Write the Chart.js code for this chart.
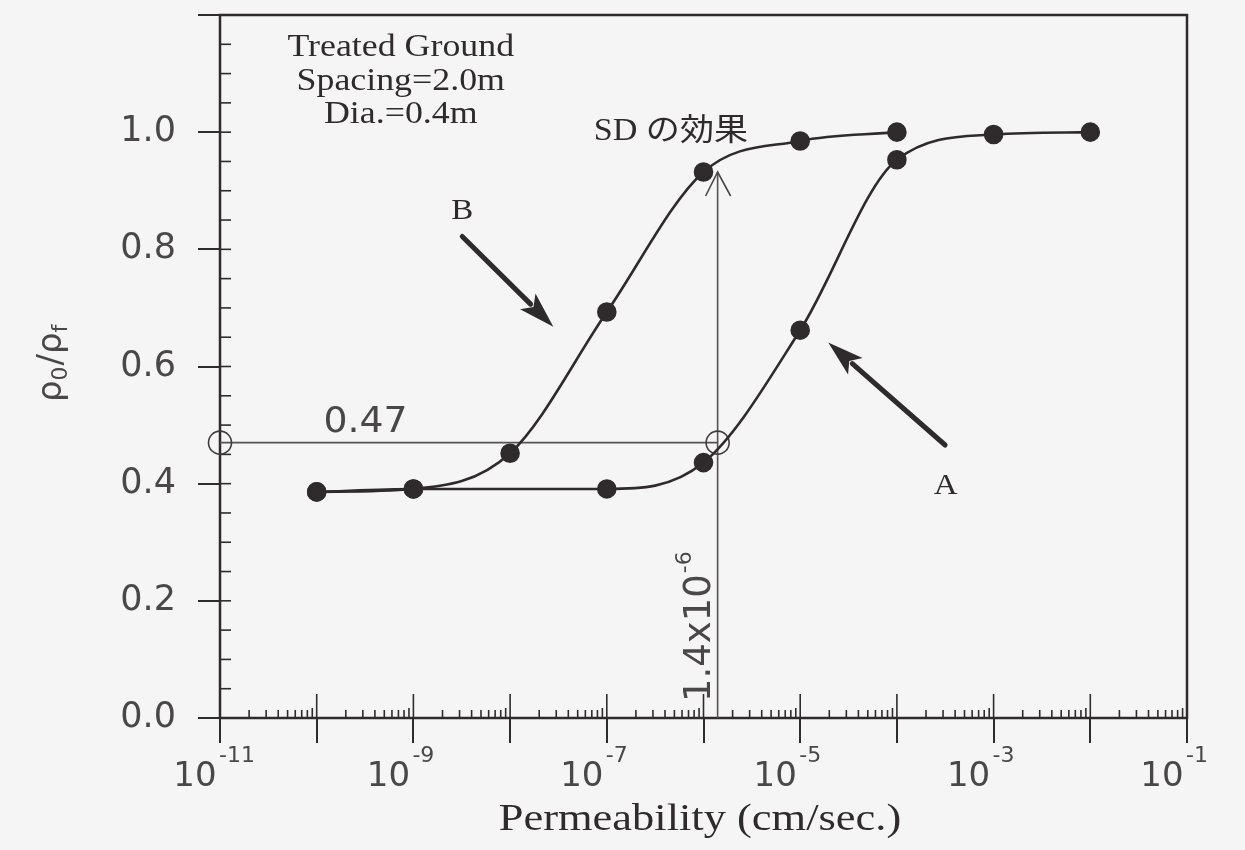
<!DOCTYPE html>
<html>
<head>
<meta charset="utf-8">
<script src="https://cdn.jsdelivr.net/npm/chart.js@4.4.1/dist/chart.umd.min.js"></script>
<style>
html,body{margin:0;padding:0;background:#f6f5f6;}
canvas{display:block;}
</style>
</head>
<body>
<canvas id="c" width="1245" height="850"></canvas>
<script>
// ---- data ----
const permB = [1e-10, 1e-9, 1e-8, 1e-7, 1e-6, 1e-5, 1e-4];
const ratioB = [0.386, 0.391, 0.452, 0.693, 0.932, 0.985, 1.0];
const permA = [1e-10, 1e-9, 1e-7, 1e-6, 1e-5, 1e-4, 1e-3, 1e-2];
const ratioA = [0.386, 0.391, 0.391, 0.436, 0.662, 0.953, 0.996, 1.0];
const refRatio = 0.47;
const refPerm = 1.4e-6;
const refArrowTop = 0.932;
const refStartPerm = 1e-11;
const xTickExponents = [-11, -10, -9, -8, -7, -6, -5, -4, -3, -2, -1];
const xLabelExponents = ['-11', '', '-9', '', '-7', '', '-5', '', '-3', '', '-1'];
const yTickLabels = ['0.0', '0.2', '0.4', '0.6', '0.8', '1.0', ''];
const noteLines = ['Treated Ground', 'Spacing=2.0m', 'Dia.=0.4m'];
const sdLabel = 'SD の効果';
const refLabel = '0.47';
const refPermLabel = ['1.4x10', '-6'];
const xTitle = 'Permeability (cm/sec.)';

const INK = '#2f2b2d';
const GRAYTXT = '#4a4749';
const SANS = "'DejaVu Sans', sans-serif";
const SERIF = "'Liberation Serif', 'Noto Sans CJK JP', serif";

function P(chart, xv, yv) {
  return [chart.scales.x.getPixelForValue(xv), chart.scales.y.getPixelForValue(yv)];
}
function stretchText(ctx, text, x, y, font, sx, align, color) {
  ctx.save();
  ctx.font = font;
  ctx.fillStyle = color || INK;
  ctx.textBaseline = 'middle';
  const w = ctx.measureText(text).width * sx;
  let x0 = x;
  if (align === 'center') x0 = x - w / 2;
  else if (align === 'right') x0 = x - w;
  ctx.translate(x0, y);
  ctx.scale(sx, 1);
  ctx.textAlign = 'left';
  ctx.fillText(text, 0, 0);
  ctx.restore();
}
function thickArrow(ctx, x1, y1, x2, y2) {
  const ang = Math.atan2(y2 - y1, x2 - x1);
  const head = 36, hw = 11;
  const bx = x2 - head * Math.cos(ang), by = y2 - head * Math.sin(ang);
  ctx.save();
  ctx.strokeStyle = INK; ctx.fillStyle = INK;
  ctx.lineWidth = 5; ctx.lineCap = 'round';
  ctx.beginPath(); ctx.moveTo(x1, y1); ctx.lineTo(bx + 4 * Math.cos(ang), by + 4 * Math.sin(ang)); ctx.stroke();
  ctx.beginPath();
  ctx.moveTo(x2, y2);
  ctx.lineTo(bx + hw * Math.sin(ang), by - hw * Math.cos(ang));
  ctx.lineTo(bx + 8 * Math.cos(ang), by + 8 * Math.sin(ang));
  ctx.lineTo(bx - hw * Math.sin(ang), by + hw * Math.cos(ang));
  ctx.closePath(); ctx.fill();
  ctx.restore();
}

const deco = {
  id: 'deco',
  beforeDraw(chart) {
    const c = chart.ctx;
    c.save(); c.fillStyle = '#f6f5f6'; c.fillRect(0, 0, chart.width, chart.height); c.restore();
  },
  beforeDatasetsDraw(chart) {
    const c = chart.ctx, a = chart.chartArea, xs = chart.scales.x, ys = chart.scales.y;
    c.save();
    c.strokeStyle = INK;
    c.lineWidth = 1.6;
    for (let k = 1; k < 24; k++) {
      const y = ys.getPixelForValue(k * 0.05);
      c.beginPath(); c.moveTo(a.left, y); c.lineTo(a.left + 11, y); c.stroke();
    }
    for (let d = -11; d <= -2; d++) {
      for (let m = 2; m <= 9; m++) {
        const x = xs.getPixelForValue(m * Math.pow(10, d));
        c.beginPath(); c.moveTo(x, a.bottom); c.lineTo(x, a.bottom - (m === 9 ? 10 : 8)); c.stroke();
      }
    }
    for (let d = -10; d <= -2; d++) {
      const x = xs.getPixelForValue(Math.pow(10, d));
      c.beginPath(); c.moveTo(x, a.bottom); c.lineTo(x, a.bottom - 24); c.stroke();
    }
    c.lineWidth = 2.5;
    c.strokeRect(a.left, a.top, a.right - a.left, a.bottom - a.top);
    c.restore();
  },
  afterDraw(chart) {
    const c = chart.ctx, xs = chart.scales.x, ys = chart.scales.y, a = chart.chartArea;
    c.save();
    c.fillStyle = GRAYTXT;
    c.font = "22px " + SANS;
    c.textAlign = 'left'; c.textBaseline = 'alphabetic';
    xTickExponents.forEach((e, i) => {
      if (!xLabelExponents[i]) return;
      const x = xs.getPixelForValue(Math.pow(10, e));
      c.fillText(xLabelExponents[i], x - 1, 762);
    });
    c.restore();

    stretchText(c, xTitle, 700, 820, "38px " + SERIF, 1.17, 'center');

    c.save();
    c.translate(52, 402);
    c.rotate(-Math.PI / 2);
    c.fillStyle = GRAYTXT;
    c.textBaseline = 'middle'; c.textAlign = 'left';
    let xx = 0;
    const big = "34px " + SANS, small = "22px " + SANS;
    const parts = [['ρ', big, 0], ['0', small, 9], ['/', big, 0], ['ρ', big, 0], ['f', small, 9]];
    parts.forEach(p => { c.font = p[1]; c.fillText(p[0], xx, p[2]); xx += c.measureText(p[0]).width + (p[1] === small ? 1 : 0); });
    c.restore();

    const [nx] = P(chart, 7.4e-10, 1);
    const ny = [48, 82, 115];
    noteLines.forEach((t, i) => stretchText(c, t, nx, ny[i], "32px " + SERIF, 1.12, 'center'));

    const [sx, sy] = P(chart, 4.6e-7, 1.0);
    stretchText(c, sdLabel, sx, sy, "31px " + SERIF, 1.1, 'center');

    const [lx, ly] = P(chart, 3.2e-10, 0.505);
    stretchText(c, refLabel, lx, ly, "36px " + SANS, 1.05, 'center', GRAYTXT);

    const [rx] = P(chart, refPerm, 0);
    c.save();
    c.translate(rx - 8, 702);
    c.rotate(-Math.PI / 2);
    c.fillStyle = GRAYTXT;
    c.textAlign = 'left'; c.textBaseline = 'alphabetic';
    c.font = "37px " + SANS;
    c.fillText(refPermLabel[0], 0, 0);
    const w = c.measureText(refPermLabel[0]).width;
    c.font = "22px " + SANS;
    c.fillText(refPermLabel[1], w + 1, -19);
    c.restore();

    const [ax, ay] = P(chart, refPerm, refArrowTop);
    c.save();
    c.strokeStyle = '#4a4749'; c.lineWidth = 1.6;
    c.beginPath();
    c.moveTo(ax - 12, ay + 24); c.lineTo(ax, ay); c.lineTo(ax + 13, ay + 24);
    c.stroke();
    c.restore();

    const b1 = P(chart, 3.2e-9, 0.822), b2 = P(chart, 2.8e-8, 0.668);
    thickArrow(c, b1[0], b1[1], b2[0], b2[1]);
    const a1 = P(chart, 3.15e-4, 0.466), a2 = P(chart, 1.95e-5, 0.641);
    thickArrow(c, a1[0], a1[1], a2[0], a2[1]);
    const bl = P(chart, 3.2e-9, 0.865), al = P(chart, 3.2e-4, 0.395);
    stretchText(c, 'B', bl[0], bl[1], "30px " + SERIF, 1.1, 'center');
    stretchText(c, 'A', al[0], al[1], "30px " + SERIF, 1.1, 'center');
  }
};

const toXY = (xs, ys) => xs.map((x, i) => ({ x: x, y: ys[i] }));

new Chart(document.getElementById('c'), {
  type: 'line',
  data: {
    datasets: [
      {
        label: 'B', data: toXY(permB, ratioB), order: 1,
        borderColor: INK, borderWidth: 2.6, backgroundColor: INK,
        pointRadius: 8.5, pointBackgroundColor: INK, pointBorderColor: INK,
        cubicInterpolationMode: 'monotone', clip: false
      },
      {
        label: 'A', data: toXY(permA, ratioA), order: 1,
        borderColor: INK, borderWidth: 2.6, backgroundColor: INK,
        pointRadius: 8.5, pointBackgroundColor: INK, pointBorderColor: INK,
        cubicInterpolationMode: 'monotone', clip: false
      },
      {
        label: 'ref-h', data: [{ x: refStartPerm, y: refRatio }, { x: refPerm, y: refRatio }], order: 2,
        borderColor: '#555255', borderWidth: 1.6, tension: 0,
        pointRadius: 11.5, pointBorderWidth: 1.6, pointBorderColor: '#3e3b3d',
        pointBackgroundColor: 'rgba(0,0,0,0)', clip: false
      },
      {
        label: 'ref-v', data: [{ x: refPerm, y: 0 }, { x: refPerm, y: refArrowTop }], order: 2,
        borderColor: '#555255', borderWidth: 1.6, tension: 0, pointRadius: 0, clip: false
      }
    ]
  },
  options: {
    responsive: false,
    devicePixelRatio: 1,
    animation: false,
    layout: { padding: { top: 15, right: 58, left: 0, bottom: 0 } },
    plugins: { legend: { display: false }, tooltip: { enabled: false } },
    scales: {
      x: {
        type: 'logarithmic', min: 1e-11, max: 1e-1,
        afterBuildTicks: (s) => { s.ticks = xTickExponents.map(e => ({ value: Math.pow(10, e) })); },
        afterFit: (s) => { s.height = 132; s.paddingLeft = 0; s.paddingRight = 0; },
        border: { display: false },
        grid: { display: true, drawOnChartArea: false, drawTicks: true, tickLength: 25, color: INK, lineWidth: 2 },
        ticks: {
          autoSkip: false, maxRotation: 0, minRotation: 0, padding: 14, labelOffset: -25,
          color: GRAYTXT, font: { family: SANS, size: 34 },
          callback: (v, i) => (xLabelExponents[i] ? '10' : '')
        }
      },
      y: {
        type: 'linear', min: 0, max: 1.2,
        afterFit: (s) => { s.width = 220; s.paddingTop = 0; s.paddingBottom = 0; },
        border: { display: false },
        grid: { display: true, drawOnChartArea: false, drawTicks: true, tickLength: 22, color: INK, lineWidth: 2 },
        ticks: {
          stepSize: 0.2, padding: 22, color: GRAYTXT, font: { family: SANS, size: 35 },
          callback: (v, i) => (yTickLabels[i] !== undefined ? yTickLabels[i] : '')
        }
      }
    }
  },
  plugins: [deco]
});
</script>
</body>
</html>
